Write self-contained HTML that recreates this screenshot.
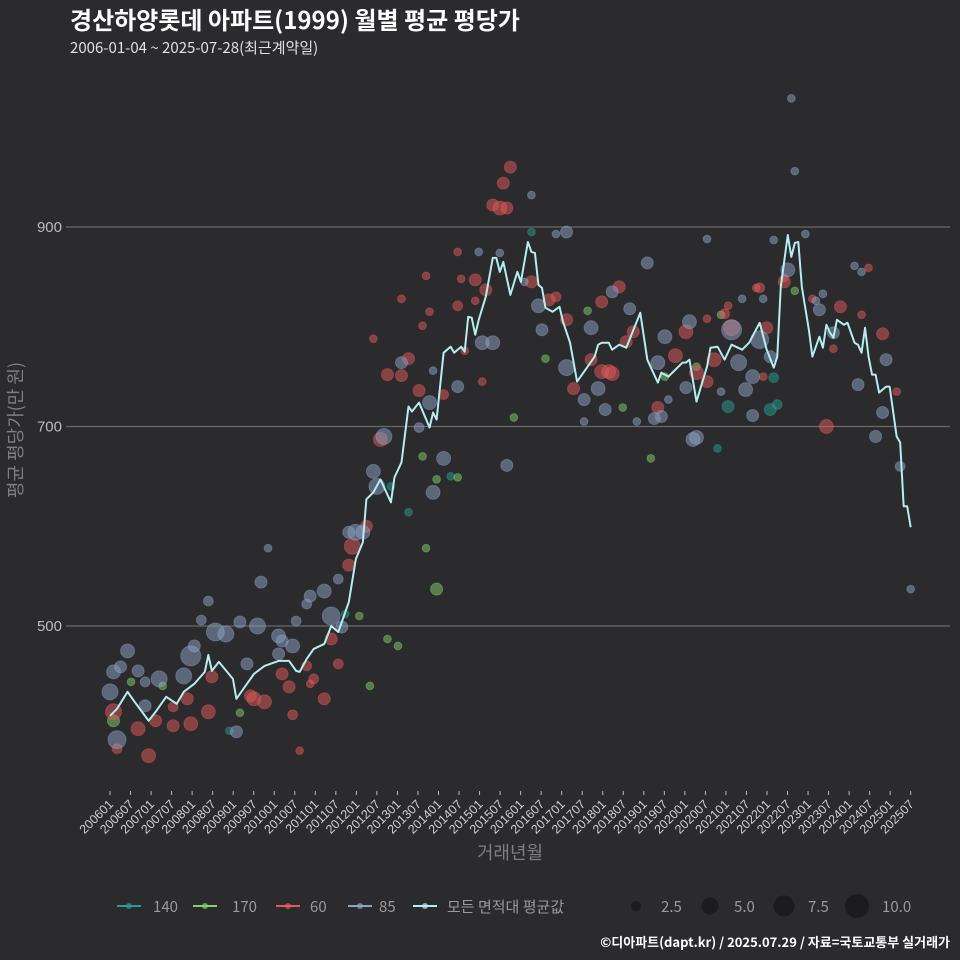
<!DOCTYPE html>
<html><head><meta charset="utf-8">
<style>
html,body{margin:0;padding:0;background:#2b2a2c;}
svg{display:block;font-family:"Liberation Sans","Noto Sans CJK KR",sans-serif;}
</style></head>
<body>
<svg id="chart" width="960" height="960" viewBox="0 0 960 960">
<rect width="960" height="960" fill="#2b2a2c"/>
<text x="70" y="29" fill="#ffffff" font-size="24" font-weight="bold" font-family="'Noto Sans CJK KR',sans-serif">경산하양롯데 아파트(1999) 월별 평균 평당가</text>
<text x="70" y="53" fill="#e0e0e0" font-size="15" font-family="'Noto Sans CJK KR',sans-serif">2006-01-04 ~ 2025-07-28(최근계약일)</text>
<g id="grid"></g>
<g id="dots"></g>
<g id="line"></g>
<g id="xaxis"></g>
<text x="0" y="0" transform="translate(22,430) rotate(-90)" text-anchor="middle" fill="#7f7f7f" font-size="18" font-family="'Noto Sans CJK KR',sans-serif">평균 평당가(만 원)</text>
<text x="510" y="859" text-anchor="middle" fill="#7f7f7f" font-size="18" font-family="'Noto Sans CJK KR',sans-serif">거래년월</text>
<g id="legend" font-size="15" font-family="'Noto Sans CJK KR',sans-serif"></g>
<text x="950" y="947" text-anchor="end" fill="#ffffff" font-size="13" font-weight="bold" font-family="'Noto Sans CJK KR',sans-serif">©디아파트(dapt.kr) / 2025.07.29 / 자료=국토교통부 실거래가</text>
</svg>
<script>
const yTicks = [500, 700, 900];
const xTickLabels = ["200601","200607","200701","200707","200801","200807","200901","200907","201001","201007","201101","201107","201201","201207","201301","201307","201401","201407","201501","201507","201601","201607","201701","201707","201801","201807","201901","201907","202001","202007","202101","202107","202201","202207","202301","202307","202401","202407","202501","202507"];
// mean line: time position (0 = 200601, 228 = 202507) and value
const lineMonths = [0,2,5,7,11,13,16,19,21,24,27,28,29,31,35,36,38,41,44,48,51,53,54,56,58,61,63,65,68,70,72,73,75,77,80,81,83,85,86,88,91,92,93,95,97,98,100,101,102,103,104,105,107,109,110,111,112,114,116,117,119,120,121,122,123,124,126,128,129,131,133,136,138,139,140,142,143,145,147,151,153,156,157,159,161,163,164,165,167,170,171,173,175,177,180,182,185,187,189,190,191,193,194,195,196,197,199,200,202,203,204,205,206,207,209,210,212,213,214,215,216,217,218,219,221,222,224,225,226,227,228];
const lineValues = [410,417,434,424,405,414,429,422,434,442,454,471,455,464,447,427,437,452,460,465,465,455,454,467,477,482,500,494,524,567,584,627,634,647,624,649,664,720,715,724,699,714,707,774,780,774,780,775,810,809,792,807,830,869,869,855,865,832,855,845,885,875,874,842,839,819,815,820,805,784,745,760,770,782,784,784,777,782,779,814,767,744,754,750,757,764,764,767,725,760,779,780,767,782,777,784,804,777,759,770,840,892,870,884,885,840,797,770,790,779,802,794,789,807,802,804,784,782,774,799,770,752,752,734,740,740,690,684,620,620,599];
const areaGroups = ["140","170","60","85"];
const dotMonth = [];
const dotValue = [];
const dotCount = [];
const dotArea = [];
const blue85 = [[0,434,4.2],[3,459,2.4],[5,475,3.2],[1,454,3.2],[2,386,5.3],[8,455,2.4],[10,444,1.6],[14,447,4.2],[10,420,2.4],[21,450,4.2],[23,470,6.6],[24,480,2.4],[28,525,1.6],[30,494,5.3],[33,492,4.2],[26,506,1.6],[37,504,2.4],[42,500,4.2],[43,544,2.4],[39,462,2.4],[48,490,3.2],[49,485,2.4],[52,480,3.2],[53,505,1.6],[48,472,2.4],[57,530,2.4],[61,535,3.2],[56,522,1.6],[65,547,1.6],[63,510,5.3],[66,499,2.4],[70,594,4.2],[36,394,2.4],[78,690,4.2],[75,655,3.2],[76,640,4.2],[72,594,3.2],[68,594,2.4],[83,764,2.4],[91,724,3.2],[95,668,3.2],[92,634,3.2],[88,699,1.6],[99,740,2.4],[106,784,3.2],[109,784,3.2],[113,661,2.4],[122,821,3.2],[130,895,2.4],[123,797,2.4],[130,759,4.2],[139,738,3.2],[135,727,2.4],[137,799,3.2],[153,864,2.4],[148,818,2.4],[143,835,2.4],[158,790,3.2],[156,764,3.2],[165,805,3.2],[164,739,2.4],[181,737,3.2],[177,797,6.6],[179,764,4.2],[183,750,3.2],[185,787,5.3],[188,770,2.4],[183,711,2.4],[166,687,3.2],[167,689,3.2],[157,710,2.4],[155,708,2.4],[193,857,3.2],[202,817,2.4],[206,794,2.4],[213,742,2.4],[221,767,2.4],[220,714,2.4],[218,690,2.4],[225,660,1.6],[141,717,2.4],[194,1029,1],[195,956,1],[228,537,1],[120,932,1],[127,893,1],[198,893,1],[212,861,1],[203,833,1],[214,855,1],[201,826,1],[105,875,1],[92,756,1],[189,887,1],[170,888,1],[111,874,1],[118,845,1],[135,705,1],[150,705,1],[180,828,1],[159,727,1],[174,735,1],[186,828,1],[45,578,1]];
const red60 = [[1,414,4.2],[2,377,1.6],[8,397,3.2],[11,370,3.2],[18,400,2.4],[23,402,3.2],[28,414,3.2],[29,449,2.4],[22,427,2.4],[18,419,1.6],[13,405,2.4],[41,427,3.2],[44,424,3.2],[40,430,2.4],[49,452,2.4],[51,439,2.4],[61,427,2.4],[52,411,1.6],[56,460,1.6],[58,447,1.6],[65,462,1.6],[63,487,2.4],[68,561,2.4],[69,580,4.2],[73,600,2.4],[54,375,1],[109,922,2.4],[111,919,3.2],[113,919,2.4],[114,960,2.4],[112,944,2.4],[104,847,2.4],[107,837,2.4],[99,821,1.6],[83,751,2.4],[85,768,2.4],[79,752,2.4],[88,736,2.4],[95,732,1.6],[77,687,3.2],[120,845,2.4],[125,827,2.4],[130,807,2.4],[137,767,2.4],[132,738,2.4],[140,755,3.2],[145,840,2.4],[140,825,2.4],[147,785,2.4],[149,795,2.4],[161,771,3.2],[164,795,3.2],[167,754,3.2],[170,745,2.4],[172,767,3.2],[175,813,1.6],[177,799,4.2],[185,839,1.6],[187,799,2.4],[192,845,2.4],[208,820,2.4],[220,793,2.4],[204,700,3.2],[142,755,3.2],[156,719,2.4],[143,753,3.2],[127,830,1.6],[99,875,1],[90,851,1],[83,828,1],[91,815,1],[100,848,1],[75,788,1],[89,801,1],[104,826,1],[101,776,1],[106,745,1],[57,442,1],[170,808,1],[176,821,1],[184,839,1],[192,849,1],[200,828,1],[216,859,1],[214,812,1],[224,735,1],[206,778,1],[186,750,1]];
const teal140 = [[176,720,2.4],[188,717,2.4],[190,722,1.6],[189,749,1.6],[173,678,1],[97,650,1],[80,640,1],[85,614,1],[67,512,1],[34,395,1],[120,895,1]];
const green170 = [[154,668,1],[146,719,1],[158,750,1],[167,760,1],[195,836,1],[174,812,1],[93,537,2.4],[115,709,1],[124,768,1],[136,816,1],[89,670,1],[93,647,1],[99,649,1],[82,480,1],[79,487,1],[1,405,2.4],[6,444,1],[15,440,1],[74,440,1],[71,510,1],[90,578,1],[37,413,1]];
[[teal140,"140"],[green170,"170"],[red60,"60"],[blue85,"85"]].forEach(([arr,g])=>arr.forEach(d=>{dotMonth.push(d[0]);dotValue.push(d[1]);dotCount.push(d[2]);dotArea.push(g);}));

const NS="http://www.w3.org/2000/svg";
const xScale = m => 110 + m*(800.7/228);
const tickX = i => 110 + i*(800.7/(xTickLabels.length-1));
const yScale = v => 227 + (900-v)*0.9975;
const rScale = n => 3.9*Math.sqrt(n);
const groupColor = {"140":"#2a9d8f","170":"#7fd16b","60":"#e35a5a","85":"#8ea3c8"};
function mk(tag, attrs, parent){const e=document.createElementNS(NS,tag);for(const k in attrs)e.setAttribute(k,attrs[k]);parent.appendChild(e);return e;}

const grid=document.getElementById('grid');
yTicks.forEach(t=>{
  const y=yScale(t);
  const ln=mk('line',{x1:66,x2:950,y1:y,y2:y,stroke:'#6a6a6a','stroke-width':1.2},grid);
  
  
  const tx=mk('text',{x:62,y:y+5,'text-anchor':'end',fill:'#bdbdbd','font-size':15},grid);
  tx.textContent=t;
  
  
});

const dots=document.getElementById('dots');
dotMonth.forEach((m,i)=>{
  const c=mk('circle',{cx:xScale(m),cy:yScale(dotValue[i]),r:rScale(dotCount[i]),fill:groupColor[dotArea[i]],'fill-opacity':0.5,stroke:groupColor[dotArea[i]],'stroke-opacity':0.4},dots);
  
  
});

const lineG=document.getElementById('line');
const pl=mk('polyline',{points:lineMonths.map((m,i)=>xScale(m)+','+yScale(lineValues[i])).join(' '),fill:'none',stroke:'#b4eef0','stroke-width':2,'stroke-linejoin':'round'},lineG);



const xa=document.getElementById('xaxis');
xTickLabels.forEach((lab,i)=>{
  const x=tickX(i);
  const tk=mk('line',{x1:x,x2:x,y1:791,y2:795,stroke:'#bbbbbb','stroke-width':1},xa);
  
  
  const tx=mk('text',{x:0,y:0,transform:`translate(${x+4},${805}) rotate(-45)`,'text-anchor':'end',fill:'#d0d0d0','font-size':12.5},xa);
  tx.textContent=lab;
  
  
});

const lg=document.getElementById('legend');
const legendItems=[["140","#2a9d8f",117,153],["170","#7fd16b",193,232],["60","#e35a5a",276,310],["85","#8ea3c8",348,379],["모든 면적대 평균값","#b4eef0",413,447]];
legendItems.forEach(([lab,col,x,tx])=>{
  const g=mk('g',{},lg);
  
  
  mk('line',{x1:x,x2:x+24,y1:906,y2:906,stroke:col,'stroke-width':2},g);
  mk('circle',{cx:x+12,cy:906,r:3,fill:col,'fill-opacity':0.7},g);
  const t=mk('text',{x:tx,y:912,fill:'#9a9a9a'},g);
  t.textContent=lab;
});
const sizeItems=[["2.5",636,5,661],["5.0",710,8.5,734],["7.5",784,10.5,808],["10.0",857,12,882]];
sizeItems.forEach(([lab,cx,r,tx])=>{
  const g=mk('g',{},lg);
  
  
  mk('circle',{cx:cx,cy:906,r:r,fill:'#1c1b1d'},g);
  const t=mk('text',{x:tx,y:912,fill:'#9a9a9a'},g);
  t.textContent=lab;
});
</script>
</body></html>
